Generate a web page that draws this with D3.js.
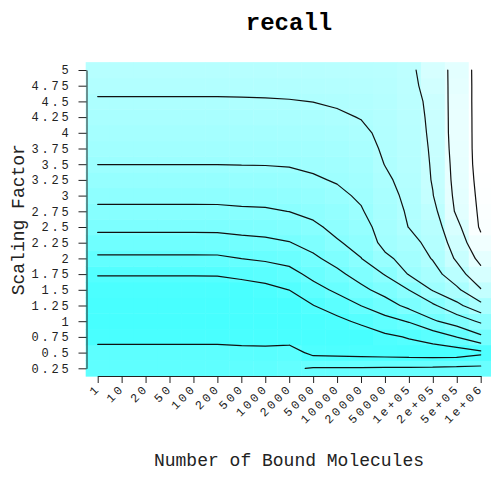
<!DOCTYPE html>
<html>
<head>
<meta charset="utf-8">
<script src="https://cdn.jsdelivr.net/npm/d3@7"></script>
<style>
body { margin: 0; background: #fff; }
text { font-family: "Liberation Mono", "Courier New", monospace; }
</style>
</head>
<body>
<svg id="chart" width="491" height="477"></svg>
<script>
var molecules = ["1", "10", "20", "50", "100", "200", "500", "1000", "2000", "5000",
    "10000", "20000", "50000", "1e+05", "2e+05", "5e+05", "1e+06"];
var scaling = [0.25, 0.5, 0.75, 1, 1.25, 1.5, 1.75, 2, 2.25, 2.5,
    2.75, 3, 3.25, 3.5, 3.75, 4, 4.25, 4.5, 4.75, 5];
var levels = [0.1, 0.2, 0.3, 0.4, 0.5, 0.6, 0.7, 0.8, 0.9];

// one column per number of bound molecules, values from scaling 0.25 up to 5
var recall = [
    [0.17, 0.156, 0.05, 0.04, 0.045, 0.06, 0.105, 0.183, 0.257, 0.323, 0.380, 0.425, 0.463, 0.501, 0.524, 0.547, 0.570, 0.593, 0.616, 0.639],
    [0.17, 0.156, 0.05, 0.04, 0.045, 0.06, 0.105, 0.183, 0.257, 0.323, 0.380, 0.425, 0.463, 0.501, 0.524, 0.547, 0.570, 0.593, 0.616, 0.639],
    [0.17, 0.156, 0.05, 0.04, 0.045, 0.06, 0.105, 0.183, 0.257, 0.323, 0.380, 0.425, 0.463, 0.501, 0.524, 0.547, 0.570, 0.593, 0.616, 0.639],
    [0.17, 0.156, 0.05, 0.04, 0.045, 0.06, 0.105, 0.183, 0.257, 0.323, 0.380, 0.425, 0.463, 0.501, 0.524, 0.547, 0.570, 0.593, 0.616, 0.639],
    [0.17, 0.156, 0.05, 0.04, 0.045, 0.06, 0.105, 0.183, 0.257, 0.323, 0.380, 0.425, 0.463, 0.501, 0.524, 0.547, 0.570, 0.593, 0.616, 0.639],
    [0.17, 0.156, 0.05, 0.04, 0.045, 0.06, 0.106, 0.184, 0.258, 0.324, 0.381, 0.425, 0.463, 0.501, 0.524, 0.547, 0.570, 0.593, 0.616, 0.639],
    [0.17, 0.139, 0.05, 0.04, 0.045, 0.05, 0.126, 0.201, 0.270, 0.332, 0.387, 0.428, 0.466, 0.502, 0.525, 0.548, 0.571, 0.594, 0.616, 0.639],
    [0.17, 0.136, 0.05, 0.04, 0.05, 0.070, 0.143, 0.214, 0.280, 0.337, 0.390, 0.430, 0.467, 0.503, 0.526, 0.549, 0.572, 0.595, 0.617, 0.640],
    [0.19, 0.146, 0.05, 0.045, 0.05, 0.101, 0.168, 0.233, 0.296, 0.350, 0.401, 0.437, 0.473, 0.506, 0.529, 0.551, 0.574, 0.597, 0.619, 0.642],
    [0.205, 0.074, 0.05, 0.06, 0.098, 0.165, 0.227, 0.282, 0.334, 0.383, 0.422, 0.456, 0.490, 0.515, 0.537, 0.558, 0.580, 0.601, 0.623, 0.645],
    [0.205, 0.070, 0.05, 0.074, 0.148, 0.218, 0.278, 0.335, 0.391, 0.424, 0.452, 0.481, 0.507, 0.527, 0.548, 0.568, 0.589, 0.609, 0.630, 0.650],
    [0.207, 0.064, 0.038, 0.120, 0.201, 0.277, 0.340, 0.398, 0.430, 0.461, 0.492, 0.513, 0.531, 0.549, 0.567, 0.585, 0.603, 0.620, 0.635, 0.650],
    [0.208, 0.058, 0.081, 0.167, 0.256, 0.336, 0.405, 0.479, 0.530, 0.545, 0.558, 0.570, 0.585, 0.602, 0.612, 0.618, 0.625, 0.635, 0.645, 0.655],
    [0.210, 0.051, 0.107, 0.207, 0.326, 0.401, 0.506, 0.538, 0.570, 0.602, 0.610, 0.620, 0.630, 0.640, 0.645, 0.650, 0.655, 0.660, 0.665, 0.670],
    [0.213, 0.047, 0.142, 0.288, 0.385, 0.508, 0.562, 0.606, 0.629, 0.651, 0.673, 0.697, 0.706, 0.709, 0.713, 0.718, 0.722, 0.728, 0.750, 0.770],
    [0.217, 0.048, 0.202, 0.345, 0.475, 0.582, 0.659, 0.713, 0.745, 0.776, 0.814, 0.823, 0.830, 0.835, 0.841, 0.844, 0.843, 0.841, 0.829, 0.818],
    [0.221, 0.079, 0.280, 0.416, 0.572, 0.694, 0.767, 0.826, 0.874, 0.912, 0.916, 0.922, 0.928, 0.933, 0.933, 0.932, 0.933, 0.935, 0.942, 0.950]
];

var svg = d3.select('#chart');

var x = d3.scaleBand().domain(molecules).range([85.7, 492.7]);
var y = d3.scaleBand().domain(scaling).range([376.15, 62.15]);
var xPoint = d3.scalePoint().domain(molecules).range([97.7, 480.7]);
var yPoint = d3.scalePoint().domain(scaling).range([368.3, 70]);
// index space -> pixels, for the contour lines
var xIdx = d3.scaleLinear().domain([0, molecules.length - 1]).range([97.7, 480.7]);
var yIdx = d3.scaleLinear().domain([0, scaling.length - 1]).range([368.3, 70]);

var color = d3.scaleLinear()
    .domain([0, 0.65, 0.93])
    .range(["#40ffff", "#b8ffff", "#ffffff"])
    .clamp(true);

var cells = [];
molecules.forEach(function (m, i) {
    scaling.forEach(function (s, j) {
        cells.push({m: m, s: s, v: recall[i][j]});
    });
});

svg.append('g').selectAll('rect')
    .data(cells)
    .enter()
    .append('rect')
    .attr('x', function (d) { return x(d.m); })
    .attr('y', function (d) { return y(d.s); })
    .attr('width', x.bandwidth() + 0.5)
    .attr('height', y.bandwidth() + 0.5)
    .attr('fill', function (d) { return color(d.v); });

// marching squares, one list of segments per level
function contourSegments(level) {
    var segs = [];
    function t(a, b) { return (level - a) / (b - a); }
    for (var i = 0; i < molecules.length - 1; i++) {
        for (var j = 0; j < scaling.length - 1; j++) {
            var z00 = recall[i][j], z10 = recall[i + 1][j],
                z01 = recall[i][j + 1], z11 = recall[i + 1][j + 1];
            var pts = [];
            if ((z00 - level) * (z10 - level) < 0) pts.push([i + t(z00, z10), j]);
            if ((z10 - level) * (z11 - level) < 0) pts.push([i + 1, j + t(z10, z11)]);
            if ((z01 - level) * (z11 - level) < 0) pts.push([i + t(z01, z11), j + 1]);
            if ((z00 - level) * (z01 - level) < 0) pts.push([i, j + t(z00, z01)]);
            if (pts.length === 2) {
                segs.push(pts);
            } else if (pts.length === 4) {
                var c = (z00 + z10 + z01 + z11) / 4;
                if ((c > level) === (z00 > level)) {
                    segs.push([pts[0], pts[1]]);
                    segs.push([pts[2], pts[3]]);
                } else {
                    segs.push([pts[0], pts[3]]);
                    segs.push([pts[1], pts[2]]);
                }
            }
        }
    }
    return segs;
}

var line = d3.line()
    .x(function (p) { return xIdx(p[0]); })
    .y(function (p) { return yIdx(p[1]); });

svg.append('g').selectAll('path')
    .data(levels)
    .enter()
    .append('path')
    .attr('d', function (L) {
        return contourSegments(L).map(function (s) { return line(s); }).join('');
    })
    .attr('fill', 'none')
    .attr('stroke', '#111')
    .attr('stroke-width', 1.2)
    .attr('stroke-linecap', 'round')
    .attr('stroke-linejoin', 'round');

// axes
var yAxis = svg.append('g')
    .attr('transform', 'translate(86.5,0)')
    .call(d3.axisLeft(yPoint).tickSize(8).tickSizeOuter(0).tickPadding(7));
var xAxis = svg.append('g')
    .attr('transform', 'translate(0,376)')
    .call(d3.axisBottom(xPoint).tickSize(7).tickSizeOuter(0));

[yAxis, xAxis].forEach(function (a) {
    a.attr('font-family', null).attr('font-size', null);
    a.selectAll('path, line').attr('stroke', '#222');
    a.selectAll('text')
        .attr('fill', '#222')
        .style('font-size', '12px')
        .style('letter-spacing', '2.8px');
});

xAxis.selectAll('text')
    .attr('x', 0)
    .attr('y', 0)
    .attr('dy', 0)
    .attr('text-anchor', 'end')
    .attr('transform', 'translate(3,13) rotate(-45)');

svg.append('text')
    .attr('x', 289)
    .attr('y', 30)
    .attr('text-anchor', 'middle')
    .style('font-size', '24px')
    .style('font-weight', 'bold')
    .text('recall');

svg.append('text')
    .attr('x', 289)
    .attr('y', 466)
    .attr('text-anchor', 'middle')
    .style('font-size', '18px')
    .attr('fill', '#222')
    .text('Number of Bound Molecules');

svg.append('text')
    .attr('transform', 'translate(23.5,219.7) rotate(-90)')
    .attr('text-anchor', 'middle')
    .style('font-size', '18px')
    .attr('fill', '#222')
    .text('Scaling Factor');
</script>
</body>
</html>
